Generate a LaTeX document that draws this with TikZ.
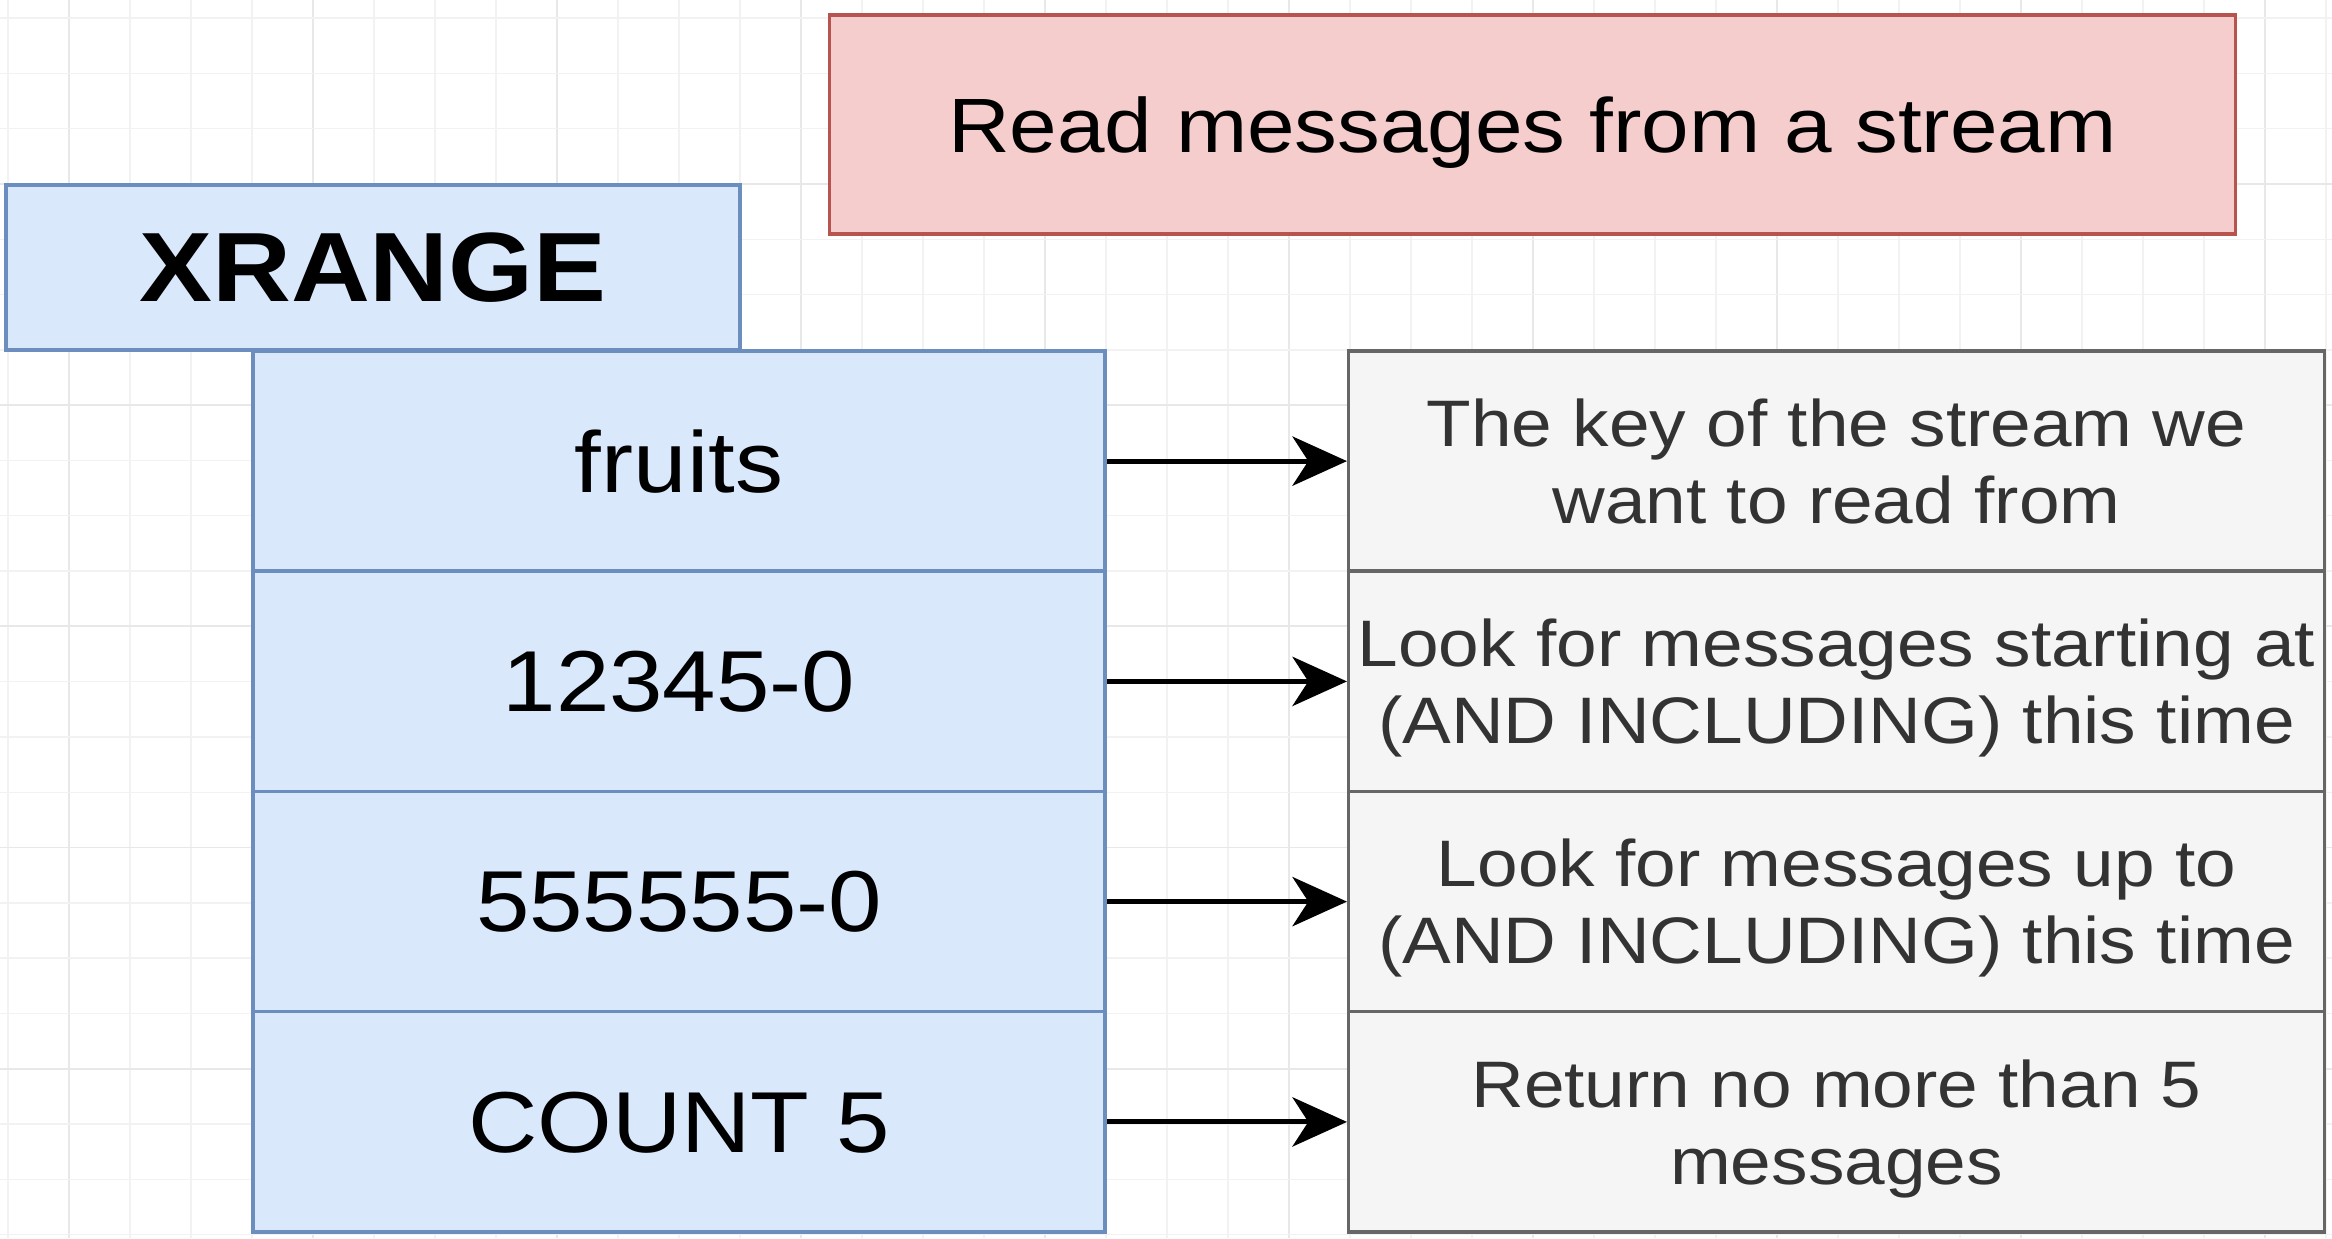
\documentclass[tikz,border=0pt]{standalone}
\usepackage{fontspec}
\setmainfont{Liberation Sans}[FakeStretch=1.11]
\usetikzlibrary{arrows.meta}
\definecolor{keyfill}{HTML}{DAE8FC}
\definecolor{keyline}{HTML}{6C8EBF}
\definecolor{notefill}{HTML}{F5F5F5}
\definecolor{noteline}{HTML}{666666}
\definecolor{notetext}{HTML}{333333}
\definecolor{titlefill}{HTML}{F4CDCC}
\definecolor{titleline}{HTML}{B85450}
\definecolor{gridminor}{HTML}{F2F2F2}
\definecolor{gridmajor}{HTML}{E8E8E8}
\begin{document}
\begin{tikzpicture}[x=0.01cm,y=-0.01cm,
  gridline/.style={gridminor,line width=0.4pt},
  gridbold/.style={gridmajor,line width=0.5pt},
  titlebox/.style={draw=titleline,fill=titlefill,line width=1pt,inner sep=0pt,
    minimum width=14.05cm,minimum height=2.19cm,text depth=-4pt,
    font=\fontsize{21.9}{26}\selectfont},
  cmdbox/.style={draw=keyline,fill=keyfill,line width=1pt,inner sep=0pt,
    minimum width=7.34cm,minimum height=1.65cm,text depth=-2pt,
    font=\fontsize{28}{33}\selectfont\bfseries},
  argbox/.style={draw=keyline,fill=keyfill,line width=1pt,inner sep=0pt,
    minimum width=8.52cm,minimum height=2.2025cm,text depth=0pt,
    font=\fontsize{24.6}{29}\selectfont},
  notebox/.style={draw=noteline,fill=notefill,line width=1pt,inner sep=0pt,
    minimum width=9.75cm,minimum height=2.2025cm,align=center,text depth=-2.5pt,
    text=notetext,font=\fontsize{18.7}{21.9}\selectfont},
  arrowline/.style={line width=1.4pt,-{Stealth[length=15.5pt,width=14pt,inset=4.5pt]}}]
\useasboundingbox (0,0) rectangle (2332,1238);
\fill[white] (0,0) rectangle (2332,1238);
\foreach \gx in {0,...,38} {
  \pgfmathtruncatemacro{\gm}{mod(\gx,4)}
  \ifnum\gm=1
    \draw[gridbold] ({8+61*\gx},0) -- ++(0,1238);
  \else
    \draw[gridline] ({8+61*\gx},0) -- ++(0,1238);
  \fi
}
\foreach \gy in {0,...,22} {
  \pgfmathtruncatemacro{\gm}{mod(\gy,4)}
  \ifnum\gm=3
    \draw[gridbold] (0,{18+55.3*\gy}) -- ++(2332,0);
  \else
    \draw[gridline] (0,{18+55.3*\gy}) -- ++(2332,0);
  \fi
}
\node[titlebox] (title) at (1532.5,124.5) {Read messages from a stream};
\node[cmdbox] (xrange) at (373,267.5) {XRANGE};
\node[argbox] (key) at (679,461.1) {fruits};
\node[argbox] (start) at (679,681.4) {12345-0};
\node[argbox] (end) at (679,901.6) {555555-0};
\node[argbox] (count) at (679,1121.9) {COUNT 5};
\node[notebox] (keynote) at (1836.5,461.1) {The key of the stream we\\want to read from};
\node[notebox] (startnote) at (1836.5,681.4) {Look for messages starting at\\(AND INCLUDING) this time};
\node[notebox] (endnote) at (1836.5,901.6) {Look for messages up to\\(AND INCLUDING) this time};
\node[notebox] (countnote) at (1836.5,1121.9) {Return no more than 5\\messages};
\draw[arrowline] (key.east) -- (keynote.west);
\draw[arrowline] (start.east) -- (startnote.west);
\draw[arrowline] (end.east) -- (endnote.west);
\draw[arrowline] (count.east) -- (countnote.west);
\end{tikzpicture}
\end{document}
